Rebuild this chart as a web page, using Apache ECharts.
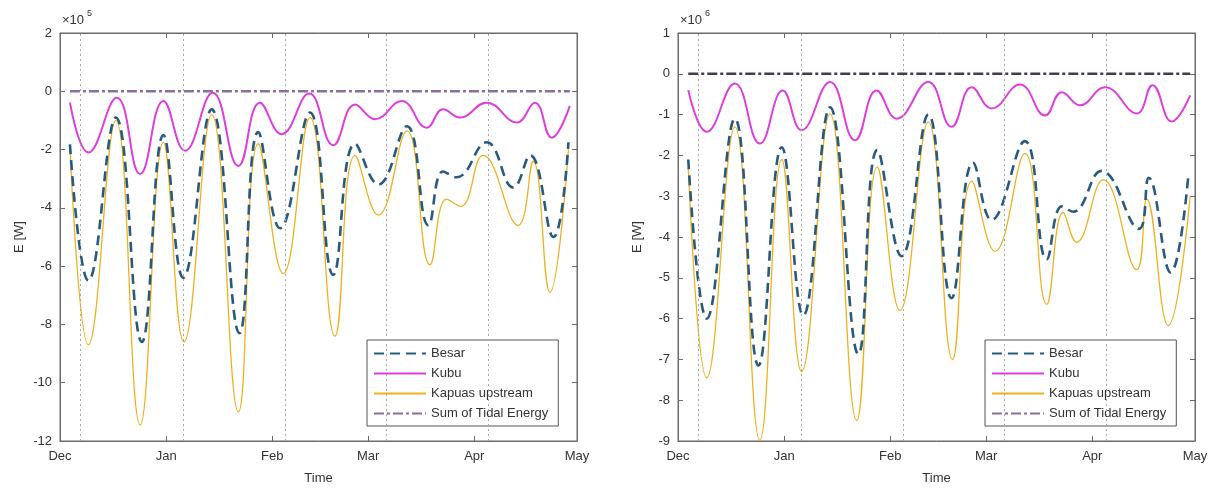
<!DOCTYPE html>
<html>
<head>
<meta charset="utf-8">
<script src="https://cdn.jsdelivr.net/npm/echarts@6/dist/echarts.min.js"></script>
<style>
  html, body { margin: 0; background: #fff; }
  #main { width: 1217px; height: 490px; }
</style>
</head>
<body>
<div id="main"></div>
<script>
// x axis: days counted from 1 Dec
const dayTicks = [0, 31, 62, 90, 121, 151];
const monthLabels = ['Dec', 'Jan', 'Feb', 'Mar', 'Apr', 'May'];
const moonDays = [6.0, 36.0, 65.8, 95.3, 125.0];   // dotted reference lines

const yTicksLeft = { min: -12, max: 2, interval: 2, exp: '5' };
const yTicksRight = { min: -9, max: 1, interval: 1, exp: '6' };

// left panel (x10^5 W)
const besarDaysL = [2.9, 8.3, 16.3, 23.9, 30.2, 36.0, 44.3, 52.4, 57.9, 64.3, 73.0, 79.8, 86.2, 93.0, 101.3, 107.6, 111.9, 115.8, 124.6, 132.4, 137.3, 144.1, 148.5];
const besarL     = [-1.82, -6.5, -0.9, -8.6, -1.5, -6.4, -0.62, -8.3, -1.4, -4.7, -0.73, -6.3, -1.8, -3.2, -1.2, -4.6, -2.75, -2.95, -1.75, -3.3, -2.2, -5.0, -1.75];
const kubuDaysL  = [2.9, 8.3, 16.6, 23.4, 30.2, 36.5, 44.6, 52.1, 58.4, 64.7, 72.8, 79.8, 86.2, 92.0, 99.8, 107.1, 111.9, 116.8, 124.6, 133.4, 138.7, 143.6, 148.9];
const kubuL      = [-0.39, -2.1, -0.22, -2.84, -0.33, -2.04, -0.05, -2.56, -0.39, -1.47, -0.08, -1.85, -0.45, -0.96, -0.33, -1.25, -0.62, -0.9, -0.39, -1.07, -0.39, -1.59, -0.5];
const kapuasDaysL = [2.9, 8.3, 16.3, 23.4, 30.2, 36.2, 44.3, 52.1, 57.9, 65.2, 73.0, 80.3, 86.2, 93.0, 101.3, 108.1, 112.9, 117.0, 123.6, 133.8, 138.2, 143.1, 148.5];
const kapuasL     = [-1.9, -8.7, -1.0, -11.45, -1.75, -8.6, -0.8, -11.0, -1.8, -6.25, -0.9, -8.4, -2.2, -4.25, -1.36, -5.95, -3.7, -3.95, -2.2, -4.6, -2.4, -6.9, -2.0];
const sumDaysL = [2.9, 148.9];
const sumL     = [0, 0];

// right panel (x10^6 W)
const besarDaysR = [3.0, 8.4, 16.6, 23.5, 30.3, 36.6, 44.4, 52.7, 58.2, 65.3, 73.1, 79.9, 86.2, 91.6, 101.3, 107.7, 112.1, 115.4, 123.7, 134.6, 137.5, 143.9, 149.0];
const besarR     = [-2.1, -6.0, -1.1, -7.15, -1.8, -5.92, -0.82, -6.87, -1.87, -4.47, -1.0, -5.5, -2.18, -3.58, -1.65, -4.55, -3.25, -3.38, -2.38, -3.8, -2.55, -4.87, -2.55];
const kubuDaysR  = [3.0, 8.4, 16.6, 23.9, 30.6, 36.1, 44.4, 51.7, 58.0, 63.9, 73.1, 79.9, 85.8, 91.6, 99.9, 107.2, 112.1, 117.4, 124.7, 134.0, 138.6, 144.2, 149.6];
const kubuR      = [-0.4, -1.42, -0.24, -1.71, -0.41, -1.38, -0.2, -1.63, -0.41, -1.1, -0.2, -1.3, -0.33, -0.85, -0.26, -1.02, -0.45, -0.77, -0.33, -0.97, -0.28, -1.17, -0.53];
const kapuasDaysR = [3.0, 8.4, 16.6, 23.9, 30.3, 36.1, 44.4, 52.2, 58.2, 64.8, 73.1, 80.2, 85.8, 92.6, 101.3, 107.7, 112.5, 116.4, 124.2, 134.0, 136.9, 143.2, 149.6];
const kapuasR     = [-2.3, -7.45, -1.3, -8.98, -2.1, -7.3, -0.98, -8.5, -2.28, -5.8, -1.18, -7.0, -2.63, -4.35, -1.95, -5.65, -3.4, -4.13, -2.6, -4.8, -3.07, -6.17, -3.0];
const sumDaysR = [3.0, 149.6];
const sumR     = [0, 0];

const names = ['Besar', 'Kubu', 'Kapuas upstream', 'Sum of Tidal Energy'];
const FONT = 'Liberation Sans, Arial, sans-serif';
const AXIS = '#6b6b6b';

const pair = (days, vals) => days.map((d, i) => [d, vals[i]]);

const chart = echarts.init(document.getElementById('main'));

const panels = [
    { left: 60, yt: yTicksLeft, besar: pair(besarDaysL, besarL), kubu: pair(kubuDaysL, kubuL),
      kapuas: pair(kapuasDaysL, kapuasL), sum: pair(sumDaysL, sumL), sumColor: '#8c6e9c' },
    { left: 678, yt: yTicksRight, besar: pair(besarDaysR, besarR), kubu: pair(kubuDaysR, kubuR),
      kapuas: pair(kapuasDaysR, kapuasR), sum: pair(sumDaysR, sumR), sumColor: '#463a4e' }
]

const grid = [], xAxis = [], yAxis = [], series = [], legend = [], graphic = []

panels.forEach((p, i) => {
    grid.push({ left: p.left, top: 33, width: 517, height: 408, show: true,
        borderColor: AXIS, borderWidth: 1, backgroundColor: '#fff' })
    // bottom axis with month labels
    xAxis.push({
        gridIndex: i, type: 'value', min: 0, max: 151, position: 'bottom',
        axisLine: { onZero: false, lineStyle: { color: AXIS } },
        axisTick: { inside: true, length: 5, customValues: dayTicks, lineStyle: { color: AXIS } },
        axisLabel: { customValues: dayTicks, formatter: v => monthLabels[dayTicks.indexOf(v)],
            color: '#333', fontSize: 13, fontFamily: FONT, margin: 9 },
        splitLine: { show: false },
        name: 'Time', nameLocation: 'middle', nameGap: 31,
        nameTextStyle: { color: '#333', fontSize: 13, fontFamily: FONT }
    })
    // top mirror for the box ticks
    xAxis.push({
        gridIndex: i, type: 'value', min: 0, max: 151, position: 'top',
        axisLine: { onZero: false, lineStyle: { color: AXIS } },
        axisTick: { inside: true, length: 5, customValues: dayTicks, lineStyle: { color: AXIS } },
        axisLabel: { show: false }, splitLine: { show: false }
    })
    yAxis.push({
        gridIndex: i, type: 'value', min: p.yt.min, max: p.yt.max, interval: p.yt.interval,
        axisLine: { show: true, onZero: false, lineStyle: { color: AXIS } },
        axisTick: { show: true, inside: true, length: 5, lineStyle: { color: AXIS } },
        axisLabel: { color: '#333', fontSize: 13, fontFamily: FONT, margin: 8 },
        splitLine: { show: false },
        name: 'E [W]', nameLocation: 'middle', nameGap: 34,
        nameTextStyle: { color: '#333', fontSize: 13, fontFamily: FONT }
    })
    yAxis.push({
        gridIndex: i, type: 'value', min: p.yt.min, max: p.yt.max, interval: p.yt.interval, position: 'right',
        axisLine: { show: true, onZero: false, lineStyle: { color: AXIS } },
        axisTick: { show: true, inside: true, length: 5, lineStyle: { color: AXIS } },
        axisLabel: { show: false }, splitLine: { show: false }
    })
    const xi = i * 2, yi = i * 2
    series.push({
        name: 'Kapuas upstream', type: 'line', xAxisIndex: xi, yAxisIndex: yi,
        data: p.kapuas, smooth: 0.45, symbol: 'none', z: 2,
        lineStyle: { color: '#EDB120', width: 1.3 }, itemStyle: { color: '#EDB120' }
    })
    series.push({
        name: 'Besar', type: 'line', xAxisIndex: xi, yAxisIndex: yi,
        data: p.besar, smooth: 0.45, symbol: 'none', z: 3,
        lineStyle: { color: '#285a7e', width: 2.6, type: [10, 6] }, itemStyle: { color: '#285a7e' },
        markLine: {
            silent: true, symbol: 'none', label: { show: false },
            lineStyle: { color: '#a8a8a8', type: [2, 3], width: 1 },
            data: moonDays.map(d => ({ xAxis: d }))
        }
    })
    series.push({
        name: 'Kubu', type: 'line', xAxisIndex: xi, yAxisIndex: yi,
        data: p.kubu, smooth: 0.45, symbol: 'none', z: 4,
        lineStyle: { color: '#dd3fdd', width: 2 }, itemStyle: { color: '#dd3fdd' }
    })
    series.push({
        name: 'Sum of Tidal Energy', type: 'line', xAxisIndex: xi, yAxisIndex: yi,
        data: p.sum, symbol: 'none', z: 5,
        lineStyle: { color: p.sumColor, width: 2.4, type: [10, 3, 3, 3] }, itemStyle: { color: p.sumColor }
    })
    legend.push({
        data: names, orient: 'vertical', left: p.left + 307, top: 340,
        itemWidth: 52, itemHeight: 14, itemGap: 7, padding: [7, 10, 6, 6],
        backgroundColor: '#fff', borderColor: '#555', borderWidth: 1,
        selectedMode: false,
        itemStyle: { opacity: 0 },
        textStyle: { color: '#333', fontSize: 13, fontFamily: FONT }
    })
    graphic.push({ type: 'text', left: p.left + 2, top: 14,
        style: { text: '×10', fill: '#333', fontSize: 13, fontFamily: FONT } })
    graphic.push({ type: 'text', left: p.left + 27, top: 9,
        style: { text: p.yt.exp, fill: '#333', fontSize: 9, fontFamily: FONT } })
})

chart.setOption({
    animation: false,
    backgroundColor: '#fff',
    grid, xAxis, yAxis, series, legend, graphic
})
</script>
</body>
</html>
